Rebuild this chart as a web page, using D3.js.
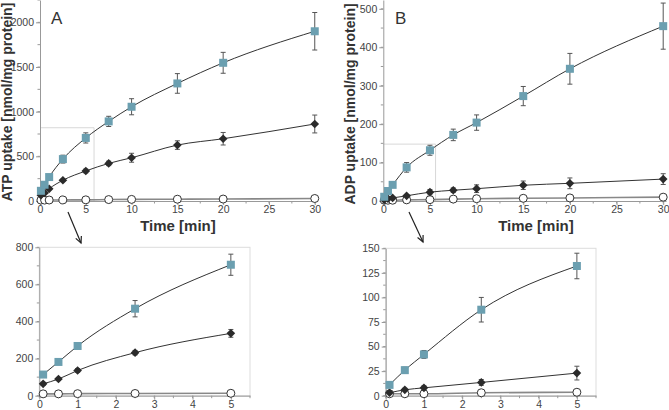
<!DOCTYPE html>
<html><head><meta charset="utf-8">
<script src="https://cdn.jsdelivr.net/npm/d3@7"></script>
<style>body{margin:0;background:#fff}svg{display:block;font-family:"Liberation Sans",Arial,sans-serif}</style>
</head><body><svg id="c" width="669" height="410"></svg>
<script>
// ---- data ----
const timesMain = [0.1, 0.5, 1, 2.5, 5, 7.5, 10, 15, 20, 30];
const timesInset = [0.1, 0.5, 1, 2.5, 5];

const atpBlue = [114, 182, 268, 469, 706, 891, 1055, 1316, 1547, 1900];
const atpBlueErr = [10, 12, 15, 44, 57, 57, 90, 110, 117, 210];
const atpBlack = [64, 90, 136, 232, 336, 421, 484, 626, 697, 862];
const atpBlackErr = [8, 8, 10, 12, 21, 25, 50, 48, 70, 100];
const atpOpen = [10, 10, 11, 12, 13, 16, 18, 20, 22, 28];

const adpBlue = [11, 26, 42, 87.5, 132, 172, 204, 273, 344, 455];
const adpBlueErr = [2, 3, 4, 12.5, 13, 15, 20, 25, 40, 60];
const adpBlack = [3, 6, 8, 13.5, 23, 28, 32, 41, 46, 57];
const adpBlackErr = [1, 1.5, 2, 3, 7, 6, 10, 11, 14, 14];
const adpOpen = [2, 2, 2, 3, 3.5, 5, 6, 7, 8, 10];

const mainXTicks = [0, 5, 10, 15, 20, 25, 30];
const atpMainYTicks = [0, 500, 1000, 1500, 2000];
const adpMainYTicks = [0, 100, 200, 300, 400, 500];
const insetXTicks = [0, 1, 2, 3, 4, 5];
const atpInsetYTicks = [0, 200, 400, 600, 800];
const adpInsetYTicks = [0, 25, 50, 75, 100, 125, 150];

const blueColor = "#6b9fb0";
const svg = d3.select("#c");

function mk(xs, n){ return xs.map((t,i)=>({t, v:n[i]})); }

function panel(o){
  const g = svg.append("g");
  const x = d3.scaleLinear().domain(o.xd).range(o.xr);
  const y = d3.scaleLinear().domain(o.yd).range(o.yr);
  if (o.frame){
    g.append("rect").attr("x", o.xr[0]).attr("y", o.yr[1])
      .attr("width", o.xr[1]-o.xr[0]).attr("height", o.yr[0]-o.yr[1])
      .attr("fill","none").attr("stroke","#ddd").attr("stroke-width",1);
  }
  if (o.zoomBox){
    const [zx, zy] = o.zoomBox;
    g.append("path").attr("d", `M${x(0)},${y(zy)}H${x(zx)}V${y(0)}`)
      .attr("fill","none").attr("stroke","#d8d8d8").attr("stroke-width",1);
  }
  const minorY = d3.range(o.yd[0], o.yd[1]+1e-9, o.yMinor);
  g.selectAll(".my").data(minorY).join("line")
    .attr("x1", x(o.xd[0])-2.5).attr("x2", x(o.xd[0])).attr("y1", d=>y(d)).attr("y2", d=>y(d))
    .attr("stroke","#999");
  const minorX = d3.range(o.xd[0], o.xd[1]+1e-9, o.xMinor);
  g.selectAll(".mx").data(minorX).join("line")
    .attr("y1", y(o.yd[0])).attr("y2", y(o.yd[0])+2.5).attr("x1", d=>x(d)).attr("x2", d=>x(d))
    .attr("stroke","#999");
  const fmt = d3.format("d");
  const ax = g.append("g").attr("transform",`translate(0,${y(o.yd[0])})`)
    .call(d3.axisBottom(x).tickValues(o.xt).tickFormat(fmt).tickSize(4).tickSizeOuter(0).tickPadding(1));
  const ay = g.append("g").attr("transform",`translate(${x(o.xd[0])},0)`)
    .call(d3.axisLeft(y).tickValues(o.yt).tickFormat(fmt).tickSize(4).tickSizeOuter(0).tickPadding(2));
  [ax, ay].forEach(a=>{
    a.select(".domain").attr("stroke","#999");
    a.selectAll(".tick line").attr("stroke","#999");
    a.selectAll(".tick text").attr("fill","#444").style("font-size","10.5px");
  });

  const line = d3.line().x(d=>x(d.t)).y(d=>y(d.v)).curve(d3.curveMonotoneX);
  const n = o.times.length;
  const open = mk(o.times, o.open.slice(0,n));
  const black = mk(o.times, o.black.slice(0,n));
  const blue = mk(o.times, o.blue.slice(0,n));
  g.append("path").datum(open).attr("d", line).attr("fill","none").attr("stroke","#888").attr("stroke-width",1.6);
  g.append("path").datum(black).attr("d", line).attr("fill","none").attr("stroke","#333").attr("stroke-width",1);
  g.append("path").datum(blue).attr("d", line).attr("fill","none").attr("stroke","#333").attr("stroke-width",1);

  function errbars(data, err){
    const e = g.append("g").attr("stroke","#555").attr("stroke-width",1);
    data.forEach((d,i)=>{
      const hi = y(d.v + err[i]), lo = y(d.v - err[i]), cx = x(d.t);
      e.append("line").attr("x1",cx).attr("x2",cx).attr("y1",hi).attr("y2",lo);
      e.append("line").attr("x1",cx-2.5).attr("x2",cx+2.5).attr("y1",hi).attr("y2",hi);
      e.append("line").attr("x1",cx-2.5).attr("x2",cx+2.5).attr("y1",lo).attr("y2",lo);
    });
  }
  errbars(blue, o.blueErr);
  errbars(black, o.blackErr);

  g.selectAll(".oc").data(open).join("circle")
    .attr("cx", d=>x(d.t)).attr("cy", d=>y(d.v)).attr("r",4)
    .attr("fill","#fff").attr("stroke","#333").attr("stroke-width",1);
  g.selectAll(".bd").data(black).join("path")
    .attr("d", d3.symbol().type(d3.symbolDiamond2).size(48))
    .attr("transform", d=>`translate(${x(d.t)},${y(d.v)})`).attr("fill","#2b2b2b");
  g.selectAll(".bs").data(blue).join("rect")
    .attr("x", d=>x(d.t)-4).attr("y", d=>y(d.v)-4).attr("width",8).attr("height",8)
    .attr("fill", blueColor);
  return {x, y, g};
}

panel({xd:[0,30.3], xr:[40,317.5], yd:[0,2250], yr:[201,0], xt:mainXTicks, yt:atpMainYTicks,
  xMinor:2.5, yMinor:250, times:timesMain, blue:atpBlue, blueErr:atpBlueErr, black:atpBlack,
  blackErr:atpBlackErr, open:atpOpen, zoomBox:[5.9, 820]});
panel({xd:[0,30.3], xr:[383.3,666], yd:[0,523], yr:[201,0], xt:mainXTicks, yt:adpMainYTicks,
  xMinor:2.5, yMinor:50, times:timesMain, blue:adpBlue, blueErr:adpBlueErr, black:adpBlack,
  blackErr:adpBlackErr, open:adpOpen, zoomBox:[5.6, 148]});
panel({xd:[0,5.5], xr:[39.3,250], yd:[0,800], yr:[395.7,247.3], xt:insetXTicks, yt:atpInsetYTicks,
  xMinor:0.5, yMinor:100, times:timesInset, blue:atpBlue, blueErr:atpBlueErr, black:atpBlack,
  blackErr:atpBlackErr, open:atpOpen, frame:true});
panel({xd:[0,5.5], xr:[385.7,596], yd:[0,150], yr:[395.7,248.3], xt:insetXTicks, yt:adpInsetYTicks,
  xMinor:0.5, yMinor:12.5, times:timesInset, blue:adpBlue, blueErr:adpBlueErr, black:adpBlack,
  blackErr:adpBlackErr, open:adpOpen, frame:true});

svg.append("text").attr("x",178).attr("y",231).attr("text-anchor","middle")
  .style("font-size","15px").style("font-weight","bold").attr("fill","#333").text("Time [min]");
svg.append("text").attr("x",536).attr("y",231).attr("text-anchor","middle")
  .style("font-size","15px").style("font-weight","bold").attr("fill","#333").text("Time [min]");
svg.append("text").attr("transform","translate(12,102) rotate(-90)").attr("text-anchor","middle")
  .style("font-size","14px").style("font-weight","bold").attr("fill","#333").text("ATP uptake [nmol/mg protein]");
svg.append("text").attr("transform","translate(355,104) rotate(-90)").attr("text-anchor","middle")
  .style("font-size","14px").style("font-weight","bold").attr("fill","#333").text("ADP uptake [nmol/mg protein]");
svg.append("text").attr("x",51).attr("y",24).style("font-size","17px").attr("fill","#333").text("A");
svg.append("text").attr("x",395).attr("y",24).style("font-size","17px").attr("fill","#333").text("B");

function arrow(x1,y1,x2,y2){
  svg.append("line").attr("x1",x1).attr("y1",y1).attr("x2",x2).attr("y2",y2).attr("stroke","#222").attr("stroke-width",1.2);
  const a = Math.atan2(y2-y1, x2-x1), L = 7, w = 0.45;
  svg.append("path").attr("d",`M${x2-L*Math.cos(a-w)},${y2-L*Math.sin(a-w)}L${x2},${y2}L${x2-L*Math.cos(a+w)},${y2-L*Math.sin(a+w)}`)
    .attr("fill","none").attr("stroke","#222").attr("stroke-width",1.2);
}
arrow(68,212,81,243);
arrow(409,212,423,242);
</script></body></html>
